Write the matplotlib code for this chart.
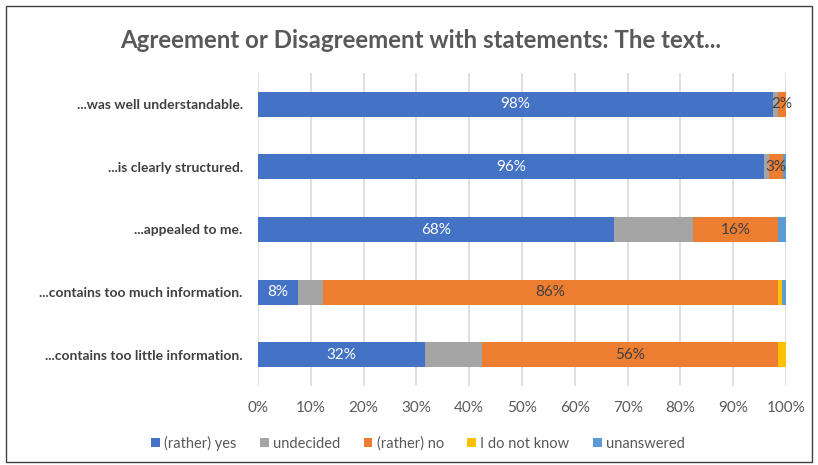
import numpy as np
import matplotlib.pyplot as plt
from matplotlib.patches import Rectangle

plt.rcParams['font.family'] = ['Lato', 'DejaVu Sans']

statements = ['...was well understandable.', '...is clearly structured.', '...appealed to me.',
              '...contains too much information.', '...contains too little information.']
rather_yes = [97.6, 95.8, 67.5, 7.5, 31.7]
undecided = [0.8, 1.0, 14.9, 4.9, 10.8]
rather_no = [1.6, 2.6, 16.0, 86.0, 55.9]
dont_know = [0.0, 0.0, 0.0, 0.8, 1.6]
unanswered = [0.0, 0.6, 1.6, 0.8, 0.0]

series = [('(rather) yes', rather_yes, '#4472c4'),
          ('undecided', undecided, '#a5a5a5'),
          ('(rather) no', rather_no, '#ed7d31'),
          ('I do not know', dont_know, '#ffc000'),
          ('unanswered', unanswered, '#5b9bd5')]

fig = plt.figure(figsize=(8.18, 4.65), dpi=100)
ax = fig.add_axes([258/818, 1-386/465, 528/818, 313/465])

y = np.arange(len(statements))
left = np.zeros(len(statements))
for name, vals, col in series:
    vals = np.array(vals)
    bars = ax.barh(y, vals, left=left, height=0.4, color=col, label=name, zorder=3)
    if name in ('(rather) yes', '(rather) no'):
        tc = 'white' if name == '(rather) yes' else '#404040'
        for b, v in zip(bars, vals):
            ax.text(b.get_x() + b.get_width()/2, b.get_y() + b.get_height()/2, f'{v:.0f}%',
                    ha='center', va='center', color=tc, fontsize=11, zorder=4)
    left += vals

ax.set_xlim(0, 100)
ax.set_ylim(len(statements) - 0.5, -0.5)
ax.set_xticks(np.arange(0, 101, 10))
ax.set_xticklabels([f'{t}%' for t in range(0, 101, 10)], color='#595959', fontsize=11)
ax.set_yticks(y)
ax.set_yticklabels(statements, fontsize=10, fontweight='bold', color='#404040')
ax.tick_params(length=0, axis='both')
ax.tick_params(axis='y', pad=11)
ax.tick_params(axis='x', pad=11)
ax.grid(axis='x', color='#d9d9d9', linewidth=1.2, zorder=0)
for s in ax.spines.values():
    s.set_visible(False)

fig.text(421/818, 1-40/465, 'Agreement or Disagreement with statements: The text...',
         ha='center', va='center', fontsize=17.3, fontweight='bold', color='#595959')

ax.legend(loc='center', bbox_to_anchor=(418/818, 1-443/465), bbox_transform=fig.transFigure,
          ncol=5, frameon=False, fontsize=10.5, handlelength=0.6, handleheight=0.6,
          handletextpad=0.3, columnspacing=1.6, labelcolor='#595959')

fig.patches.append(Rectangle((6/818, 3/465), 806/818, 456/465, transform=fig.transFigure,
                             fill=False, edgecolor='#404040', linewidth=1))

fig.savefig('out.png', dpi=100)
